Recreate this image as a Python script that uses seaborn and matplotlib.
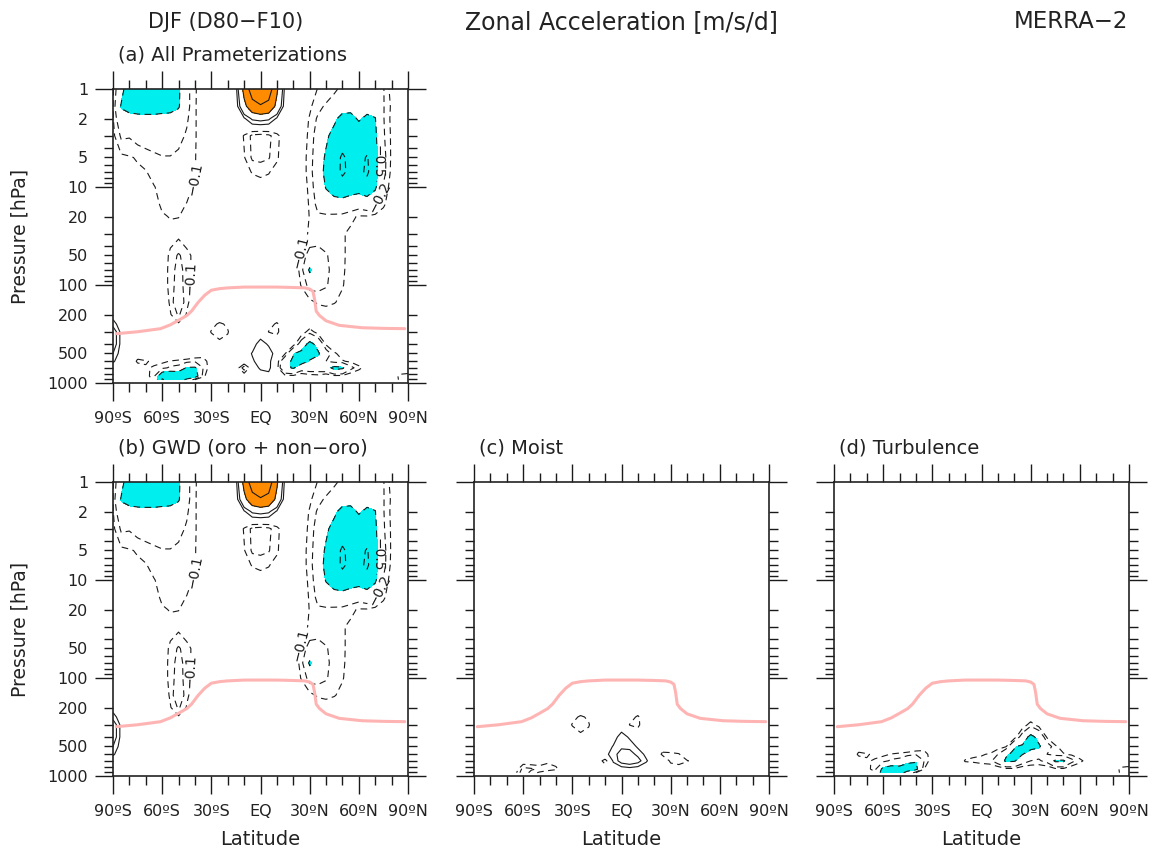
import numpy as np
import seaborn as sns
from matplotlib import pyplot as plt

# grid: latitude (deg) and pressure (hPa)
lats = [-90, -85, -80, -75, -70, -65, -60, -55, -50, -45, -40, -35, -30, -25, -20, -15, -10, -5, 0,
        5, 10, 15, 20, 25, 30, 35, 40, 45, 50, 55, 60, 65, 70, 75, 80, 85, 90]
pres = [1, 1.5, 2, 3, 5, 7, 10, 15, 20, 30, 50, 70, 100, 150, 200, 250, 300, 400, 500, 600, 700, 850, 925]

# zonal acceleration, in 0.1 m/s/d (rows = pres, cols = lats)
gwd = [
    [-0.8, -4, -7, -8, -8, -8, -8, -7, -5.5, -2.5, -1.1, -0.5, -0.2, 0, -0.5, 0.5, 6, 13, 18, 13, 5.5, 0.5, -0.3, -0.2, -0.4, -1.05, -1.3, -1.7, -2.4, -3, -3.2, -3.2, -3, -2.1, -0.5, -0.1, 0],
    [-0.95, -5.3, -6, -6.2, -6.2, -6.2, -6, -6, -5.3, -2.5, -1.1, -0.4, -0.1, 0, 0, 0.2, 4, 7.5, 9, 8, 4, 0.2, 0, -0.2, -0.8, -1.6, -2.2, -3, -4, -4.5, -4.5, -4.5, -4, -2.1, -0.8, -0.1, 0],
    [-0.9, -3.5, -4, -4.2, -4.3, -4.3, -4.2, -4, -3.5, -2.2, -1.1, -0.4, 0, 0, 0, 0, 0.8, 2.3, 2.6, 2.3, 0.8, 0, 0, -0.3, -1.1, -2.2, -3.2, -4.5, -5.8, -5.5, -4.8, -5.3, -5.1, -2.1, -0.7, -0.1, 0],
    [-0.7, -2.2, -2.1, -2.5, -2.8, -3, -3, -3, -2.5, -1.8, -1.1, -0.4, 0, 0, 0, -0.1, -1.1, -2.3, -2.5, -2.3, -1.3, -0.3, 0, -0.5, -1.2, -2.8, -4.5, -6, -7, -6.5, -6.2, -6.5, -5.5, -2.2, -0.8, -0.2, 0],
    [-0.3, -0.7, -0.9, -1.1, -1.3, -1.6, -1.9, -1.9, -1.6, -1.3, -1.05, -0.5, -0.1, 0, 0, 0, -0.9, -2.2, -2.3, -2.1, -1.2, -0.1, 0, -0.6, -1.3, -3.2, -5.5, -7, -11, -8, -8, -10.5, -6, -2.5, -0.8, -0.2, 0],
    [-0.2, -0.4, -0.6, -0.8, -0.95, -1.3, -1.5, -1.5, -1.4, -1.25, -1.05, -0.4, 0, 0, 0, 0, -0.5, -1.1, -1.3, -1.1, -0.5, 0, 0, -0.6, -1.3, -3.5, -5.8, -7.5, -11, -8.5, -8.5, -11, -6, -2.5, -0.7, -0.1, 0],
    [-0.1, -0.3, -0.4, -0.5, -0.7, -0.95, -1.3, -1.4, -1.3, -1.15, -0.9, -0.3, 0, 0, 0, 0, 0, -0.3, -0.4, -0.3, 0, 0, 0, -0.5, -1.2, -3, -5.2, -6.5, -7, -6.5, -6.2, -7, -5.5, -1.8, -0.5, 0, 0],
    [0, 0, -0.2, -0.3, -0.4, -0.7, -1.15, -1.25, -1.15, -0.98, -0.7, -0.2, 0, 0, 0, 0, 0, 0, 0, 0, 0, 0, 0, -0.4, -1.1, -2.4, -3.2, -3.5, -3.6, -3, -2.6, -3, -2.2, -1.2, -0.3, 0, 0],
    [0, 0, 0, 0, -0.3, -0.5, -0.9, -1.05, -1.02, -0.8, -0.5, 0, 0, 0, 0, 0, 0, 0, 0, 0, 0, 0, 0, -0.3, -1.05, -1.8, -1.7, -1.6, -1.5, -1.2, -0.9, -0.9, -0.7, -0.4, -0.1, 0, 0],
    [0, 0, 0, 0, 0, 0, -0.5, -0.7, -0.7, -0.5, -0.3, 0, 0, 0, 0, 0, 0, 0, 0, 0, 0, 0, 0, -0.4, -1.2, -1.6, -1.5, -1.3, -1.1, -0.8, -0.4, -0.3, -0.2, 0, 0, 0, 0],
    [0, 0, 0, 0, 0, 0, -0.4, -1.2, -2.2, -1.3, -0.7, 0, 0, 0, 0, 0, 0, 0, 0, 0, 0, 0, -0.2, -1.3, -2.6, -2.4, -2.1, -1.6, -1.2, -0.6, -0.2, 0, 0, 0, 0, 0, 0],
    [0, 0, 0, 0, 0, 0, -0.4, -1.3, -2.6, -1.4, -0.6, 0, 0, 0, 0, 0, 0, 0, 0, 0, 0, 0, -0.2, -1.4, -5.5, -3, -2.2, -1.7, -1.2, -0.5, 0, 0, 0, 0, 0, 0, 0],
    [0, 0, 0, 0, 0, 0, -0.4, -1.3, -2.8, -1.3, -0.5, 0, 0, 0, 0, 0, 0, 0, 0, 0, 0, 0, -0.1, -1.1, -2.5, -2.4, -2.1, -1.6, -1.1, -0.4, 0, 0, 0, 0, 0, 0, 0],
    [0, 0, 0, 0, 0, 0, 0, -1.2, -3.5, -1.2, -0.4, 0, 0, 0, 0, 0, 0, 0, 0, 0, 0, 0, 0, 0, -0.6, -1.2, -1.3, -1.1, -0.6, 0, 0, 0, 0, 0, 0, 0, 0],
    [0.5, 0, 0, 0, 0, 0, 0, -0.9, -2.2, -0.9, -0.3, 0, 0, 0, 0, 0, 0, 0, 0, 0, 0, 0, 0, 0, 0, 0, -0.3, 0, 0, 0, 0, 0, 0, 0, 0, 0, 0],
    [1.5, 0.3, 0, 0, 0, 0, 0, -0.4, -0.8, -0.4, 0, 0, 0, 0, 0, 0, 0, 0, 0, 0, 0, 0, 0, 0, 0, 0, 0, 0, 0, 0, 0, 0, 0, 0, 0, 0, 0],
    [3, 0.6, 0, 0, 0, 0, 0, 0, -0.3, 0, 0, 0, 0, 0, 0, 0, 0, 0, 0, 0, 0, 0, 0, 0, 0, 0, 0, 0, 0, 0, 0, 0, 0, 0, 0, 0, 0],
    [3, 0.6, 0, 0, 0, 0, 0, 0, 0, 0, 0, 0, 0, 0, 0, 0, 0, 0, 0, 0, 0, 0, 0, 0, 0, 0, 0, 0, 0, 0, 0, 0, 0, 0, 0, 0, 0],
    [2, 0.4, 0, 0, 0, 0, 0, 0, 0, 0, 0, 0, 0, 0, 0, 0, 0, 0, 0, 0, 0, 0, 0, 0, 0, 0, 0, 0, 0, 0, 0, 0, 0, 0, 0, 0, 0],
    [1.2, 0.2, 0, 0, 0, 0, 0, 0, 0, 0, 0, 0, 0, 0, 0, 0, 0, 0, 0, 0, 0, 0, 0, 0, 0, 0, 0, 0, 0, 0, 0, 0, 0, 0, 0, 0, 0],
    [0.3, 0, 0, 0, 0, 0, 0, 0, 0, 0, 0, 0, 0, 0, 0, 0, 0, 0, 0, 0, 0, 0, 0, 0, 0, 0, 0, 0, 0, 0, 0, 0, 0, 0, 0, 0, 0],
    [0, 0, 0, 0, 0, 0, 0, 0, 0, 0, 0, 0, 0, 0, 0, 0, 0, 0, 0, 0, 0, 0, 0, 0, 0, 0, 0, 0, 0, 0, 0, 0, 0, 0, 0, 0, 0],
    [0, 0, 0, 0, 0, 0, 0, 0, 0, 0, 0, 0, 0, 0, 0, 0, 0, 0, 0, 0, 0, 0, 0, 0, 0, 0, 0, 0, 0, 0, 0, 0, 0, 0, 0, 0, 0],
]

# moist and turbulence are zero above 200 hPa; rows below = 200 ... 925 hPa
n_upper = 14
moist_low = [
    [0, 0, 0, 0, 0, 0, 0, 0, 0, 0, 0, 0, 0, 0, 0, 0, 0, 0, 0, 0, 0, 0, 0, 0, 0, 0, 0, 0, 0, 0, 0, 0, 0, 0, 0, 0, 0],
    [0, 0, 0, 0, 0, 0, 0, 0, 0, 0, 0, 0, -0.6, -1.2, -0.8, 0, 0, 0, 0, -0.5, -1.2, 0, 0, 0, 0, 0, 0, 0, 0, 0, 0, 0, 0, 0, 0, 0, 0],
    [0, 0, 0, 0, 0, 0, 0, 0, 0, 0, 0, 0, -1.1, -1.6, -1.1, 0, 0, 0, 0.2, -1.05, -1.2, -0.3, 0, 0, 0, 0, 0, 0, 0, 0, 0, 0, 0, 0, 0, 0, 0],
    [0, 0, 0, 0, 0, 0, 0, 0, 0, 0, 0, 0, 0, -0.6, -0.5, 0, 0, 0.4, 1.6, 0.8, -0.3, 0, 0, 0, 0, 0, 0, 0, 0, 0, 0, 0, 0, 0, 0, 0, 0],
    [0, 0, 0, 0, 0, 0, 0, 0, 0, 0, 0, 0, 0, 0, 0, 0, 0.2, 1.1, 1.8, 1.7, 0.8, 0, 0, -0.5, 0, 0, 0, 0, 0, 0, 0, 0, 0, 0, 0, 0, 0],
    [0, 0, 0, 0, 0, 0, 0, 0, 0, 0, 0, 0, 0, 0, 0, 0, 0.6, 1.6, 2.5, 2.5, 1.7, 0.7, 0, -1.2, -1.3, -1.1, 0, 0, 0, 0, 0, 0, 0, 0, 0, 0, 0],
    [0, 0, 0, 0, 0, 0, 0, 0, 0, -0.8, -0.6, 0, 0, 0, 0, 0, -1.6, 1.2, 2.6, 3, 2.5, 1.2, 0, 0, -1.2, -1.3, -1.1, -0.5, 0, 0, 0, 0, 0, 0, 0, 0, 0],
    [0, 0, 0, 0, 0, 0, -2.5, -2.2, -1.8, -1.5, -1.2, -0.3, 0, 0, 0, 0, 0, 0, 0.3, 0.5, 0.3, 0, 0, 0, -0.4, -0.6, 0, 0, 0, 0, 0, 0, 0, 0, 0, 0, 0],
    [0, 0, 0, 0, 0, -0.5, -3, -1.5, -0.8, -0.3, 0, 0, 0, 0, 0, 0, 0, 0, 0, 0, 0, 0, 0, 0, 0, 0, 0, 0, 0, 0, 0, 0, 0, 0, 0, 0, 0],
]
turb_low = [
    [0, 0, 0, 0, 0, 0, 0, 0, 0, 0, 0, 0, 0, 0, 0, 0, 0, 0, 0, 0, 0, 0, 0, 0, 0, 0, 0, 0, 0, 0, 0, 0, 0, 0, 0, 0, 0],
    [0, 0, 0, 0, 0, 0, 0, 0, 0, 0, 0, 0, 0, 0, 0, 0, 0, 0, 0, 0, 0, 0, 0, 0, -0.3, 0, 0, 0, 0, 0, 0, 0, 0, 0, 0, 0, 0],
    [0, 0, 0, 0, 0, 0, 0, 0, 0, 0, 0, 0, 0, 0, 0, 0, 0, 0, 0, 0, 0, 0, 0, -0.3, -1.5, -0.5, 0, 0, 0, 0, 0, 0, 0, 0, 0, 0, 0],
    [0, 0, 0, 0, 0, 0, 0, 0, 0, 0, 0, 0, 0, 0, 0, 0, 0, 0, 0, 0, 0, 0, -0.3, -3, -6, -4, -0.8, 0, 0, 0, 0, 0, 0, 0, 0, 0, 0],
    [0, 0, 0, -0.5, 0, 0, 0, 0, 0, 0, 0, -0.6, 0, 0, 0, 0, 0, 0, 0, 0, -0.5, -0.9, -4.8, -5.5, -6, -5.5, -3, -1.2, -0.5, 0, 0, 0, 0, 0, 0, 0, 0],
    [0, 0, 0, -1.2, -1.1, -0.8, -0.8, -1.05, -1.2, -1.4, -1.8, -1.4, -0.5, 0, 0, 0, -0.5, -0.8, -0.9, -1.1, -2, -4.6, -5.5, -5.1, -3.5, -2.5, -2, -1.3, -1.1, -0.8, -0.4, 0, 0, 0, 0, 0, 0],
    [0, 0, 0, -0.4, -0.9, -1.1, -1.5, -2.3, -2.6, -4.5, -4.8, -2, -0.2, 0, 0, 0, -1.1, -1.2, -1.3, -1.6, -3, -5.5, -5.3, -3, -2, -1.8, -2.5, -5.5, -5.5, -2.5, -1.3, -0.5, 0, 0, 0, 0, 0],
    [0, 0, 0, 0, -0.6, -1.5, -6, -7, -6.5, -6.2, -6, -1, 0, 0, 0, 0, 0, 0, -0.3, 0, 0, -0.6, -0.6, 0, 0, 0, 0, -0.6, -0.6, 0, 0, 0, 0, 0, 0, -1.3, -1.5],
    [0, 0, 0, 0, 0, -0.8, -7.5, -6.5, -6, -4, -1, 0, 0, 0, 0, 0, 0, 0, 0, 0, 0, 0, 0, 0, 0, 0, 0, 0, 0, 0, 0, 0, 0, 0, 0, -1.2, -1.5],
]

# tropopause (pink line)
trop_lat = [-88, -75, -61, -55, -50, -45, -42, -38, -34, -30, -25, -20, -10, 0, 10, 20, 27, 30, 32, 33, 34, 36, 40, 48, 62, 75, 88]
trop_p = [314, 300, 279, 255, 229, 205, 184, 150, 127, 113, 109, 107, 105, 105, 105, 106, 107, 110, 116, 140, 185, 205, 232, 258, 273, 277, 279]

# where the contour labels sit in panels (a) and (b): (lat, hPa)
label_spots = [(-42, 8), (-45, 85), (23, 45), (70, 5.5), (74, 13)]
label_levels = [-0.5, -0.2, -0.1]
other_levels = [-5, -2, -1, 0.1, 0.2, 0.5, 1, 2, 5]

xtick_pos = [-90, -60, -30, 0, 30, 60, 90]
xtick_lab = ["90ºS", "60ºS", "30ºS", "EQ", "30ºN", "60ºN", "90ºN"]
ytick_major = [1, 10, 100, 1000]
ytick_minor = [2, 3, 4, 5, 6, 7, 8, 9, 20, 30, 40, 50, 60, 70, 80, 90, 200, 300, 400, 500, 600, 700, 800, 900]
ytick_minor_lab = ["2", "", "", "5", "", "", "", "", "20", "", "", "50", "", "", "", "",
                   "200", "", "", "500", "", "", "", ""]

CYAN = "#00EEEE"
ORANGE = "#FF8C00"
PINK = "#FFB4B4"
INK = "#222222"

sns.set_theme(style="ticks")
plt.rcParams["font.family"] = ["DejaVu Sans"]
plt.rcParams["contour.negative_linestyle"] = "dashed"
plt.rcParams["lines.dashed_pattern"] = [6, 4]

zero_top = np.zeros((n_upper, len(lats)))
f_gwd = np.array(gwd) / 10
f_moist = np.vstack([zero_top, moist_low]) / 10
f_turb = np.vstack([zero_top, turb_low]) / 10
f_all = f_gwd + f_moist + f_turb


def draw(ax, field, title, left_lab, xlab, labels=False):
    ax.set_yscale("log")
    ax.set_xlim(-90, 90)
    ax.set_ylim(1000, 1)
    ax.contourf(lats, pres, field, levels=[-50, -0.5], colors=[CYAN])
    ax.contourf(lats, pres, field, levels=[0.5, 50], colors=[ORANGE])
    ax.contour(lats, pres, field, levels=other_levels, colors="k", linewidths=0.8)
    cs = ax.contour(lats, pres, field, levels=label_levels, colors="k", linewidths=0.8)
    if labels:
        ax.clabel(cs, manual=label_spots, inline=True, inline_spacing=2, fontsize=10,
                  fmt=lambda v: f"{v:g}".replace("-", "\u2212"))
    sns.lineplot(x=trop_lat, y=trop_p, ax=ax, color=PINK, lw=2.2, sort=False)
    ax.set_xlim(-90, 90)
    ax.set_ylim(1000, 1)
    ax.set_xticks(xtick_pos, xtick_lab)
    ax.set_xticks(range(-80, 90, 10), minor=True)
    ax.set_yticks(ytick_major, ["1", "10", "100", "1000"])
    ax.set_yticks(ytick_minor, ytick_minor_lab if left_lab else [""] * len(ytick_minor), minor=True)
    if not left_lab:
        ax.set_yticklabels([""] * 4)
    ax.tick_params(which="both", direction="out", top=True, right=True, width=1.0,
                   color="k", labelsize=11.5, labelcolor=INK)
    ax.tick_params(which="major", length=13)
    ax.tick_params(which="minor", length=6.5)
    ax.tick_params(axis="x", which="major", pad=7)
    ax.tick_params(axis="y", which="major", pad=5)
    ax.tick_params(axis="y", which="minor", pad=11.5)
    for s in ax.spines.values():
        s.set_linewidth(1.2)
        s.set_color(INK)
    if left_lab:
        ax.set_ylabel("Pressure [hPa]", fontsize=13.5, labelpad=13, color=INK)
    else:
        ax.set_ylabel("")
    if xlab:
        ax.set_xlabel("Latitude", fontsize=14, labelpad=8, color=INK)
    else:
        ax.set_xlabel("")
    pos = ax.get_position()
    fig.text(pos.x0 + 0.004, pos.y1 + 34 / 855, title, fontsize=14, color=INK,
             ha="left", va="center")


W, H = 1156, 855
fig = plt.figure(figsize=(W / 100, H / 100), dpi=100)
aw, ah = 295 / W, 294 / H
ax_a = fig.add_axes([113 / W, (H - 383) / H, aw, ah])
ax_b = fig.add_axes([113 / W, (H - 776) / H, aw, ah])
ax_c = fig.add_axes([474 / W, (H - 776) / H, aw, ah])
ax_d = fig.add_axes([834 / W, (H - 776) / H, aw, ah])

draw(ax_a, f_all, "(a) All Prameterizations", True, False, labels=True)
draw(ax_b, f_gwd, "(b) GWD (oro + non\u2212oro)", True, True, labels=True)
draw(ax_c, f_moist, "(c) Moist", False, True)
draw(ax_d, f_turb, "(d) Turbulence", False, True)

fig.text(148 / W, 1 - 22 / H, "DJF (D80\u2212F10)", fontsize=15, color=INK, ha="left", va="center")
fig.text(621 / W, 1 - 22 / H, "Zonal Acceleration [m/s/d]", fontsize=17, color=INK, ha="center", va="center")
fig.text(1128 / W, 1 - 22 / H, "MERRA\u22122", fontsize=16.5, color=INK, ha="right", va="center")

fig.savefig("out.png", dpi=100)
